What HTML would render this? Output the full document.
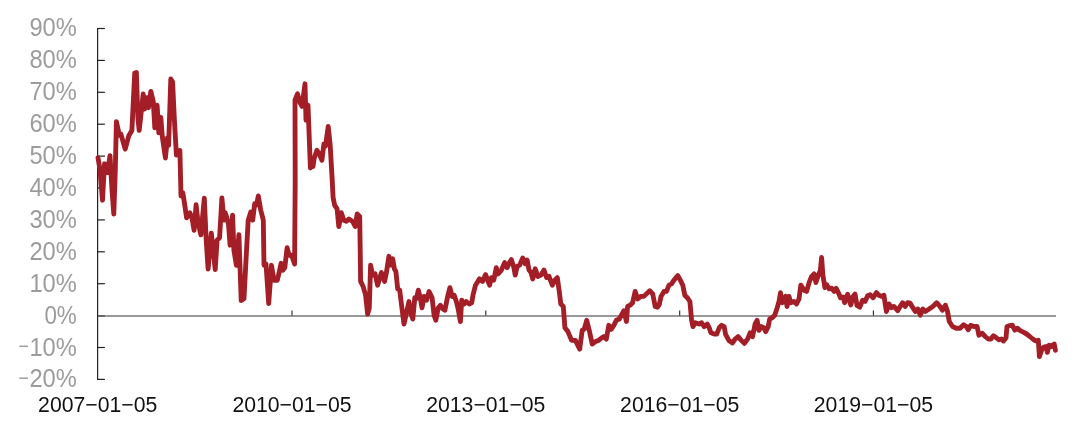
<!DOCTYPE html><html><head><meta charset="utf-8"><style>html,body{margin:0;padding:0;background:#fff}svg{display:block;will-change:transform;transform:translateZ(0)}text{font-family:"Liberation Sans",sans-serif}</style></head><body>
<svg width="1080" height="438" viewBox="0 0 1080 438">
<rect width="1080" height="438" fill="#fff"/>
<line x1="292.0" y1="316.3" x2="292.0" y2="310.6" stroke="#222" stroke-width="1.1"/>
<line x1="485.8" y1="316.3" x2="485.8" y2="310.6" stroke="#222" stroke-width="1.1"/>
<line x1="679.7" y1="316.3" x2="679.7" y2="310.6" stroke="#222" stroke-width="1.1"/>
<line x1="873.4" y1="316.3" x2="873.4" y2="310.6" stroke="#222" stroke-width="1.1"/>
<line x1="97.6" y1="27.9" x2="97.6" y2="380.1" stroke="#222" stroke-width="1.2"/>
<line x1="97.6" y1="28.5" x2="104.9" y2="28.5" stroke="#222" stroke-width="1.2"/>
<line x1="97.6" y1="60.4" x2="104.9" y2="60.4" stroke="#222" stroke-width="1.2"/>
<line x1="97.6" y1="92.3" x2="104.9" y2="92.3" stroke="#222" stroke-width="1.2"/>
<line x1="97.6" y1="124.2" x2="104.9" y2="124.2" stroke="#222" stroke-width="1.2"/>
<line x1="97.6" y1="156.1" x2="104.9" y2="156.1" stroke="#222" stroke-width="1.2"/>
<line x1="97.6" y1="188.0" x2="104.9" y2="188.0" stroke="#222" stroke-width="1.2"/>
<line x1="97.6" y1="219.9" x2="104.9" y2="219.9" stroke="#222" stroke-width="1.2"/>
<line x1="97.6" y1="251.8" x2="104.9" y2="251.8" stroke="#222" stroke-width="1.2"/>
<line x1="97.6" y1="283.7" x2="104.9" y2="283.7" stroke="#222" stroke-width="1.2"/>
<line x1="97.6" y1="315.6" x2="104.9" y2="315.6" stroke="#222" stroke-width="1.2"/>
<line x1="97.6" y1="347.5" x2="104.9" y2="347.5" stroke="#222" stroke-width="1.2"/>
<line x1="97.6" y1="379.4" x2="104.9" y2="379.4" stroke="#222" stroke-width="1.2"/>
<line x1="98" y1="316" x2="1056" y2="316" stroke="#777" stroke-width="1.55"/>
<line x1="98.2" y1="316" x2="104.9" y2="316" stroke="#666" stroke-width="1.55"/>
<text x="29.4" y="36.2" font-size="25.2" fill="#9c9c9c" textLength="47.4" lengthAdjust="spacingAndGlyphs">90%</text>
<text x="29.4" y="68.2" font-size="25.2" fill="#9c9c9c" textLength="47.4" lengthAdjust="spacingAndGlyphs">80%</text>
<text x="29.4" y="100.1" font-size="25.2" fill="#9c9c9c" textLength="47.4" lengthAdjust="spacingAndGlyphs">70%</text>
<text x="29.4" y="132.0" font-size="25.2" fill="#9c9c9c" textLength="47.4" lengthAdjust="spacingAndGlyphs">60%</text>
<text x="29.4" y="163.9" font-size="25.2" fill="#9c9c9c" textLength="47.4" lengthAdjust="spacingAndGlyphs">50%</text>
<text x="29.4" y="195.9" font-size="25.2" fill="#9c9c9c" textLength="47.4" lengthAdjust="spacingAndGlyphs">40%</text>
<text x="29.4" y="227.8" font-size="25.2" fill="#9c9c9c" textLength="47.4" lengthAdjust="spacingAndGlyphs">30%</text>
<text x="29.4" y="259.7" font-size="25.2" fill="#9c9c9c" textLength="47.4" lengthAdjust="spacingAndGlyphs">20%</text>
<text x="29.4" y="291.6" font-size="25.2" fill="#9c9c9c" textLength="47.4" lengthAdjust="spacingAndGlyphs">10%</text>
<text x="44.4" y="323.6" font-size="25.2" fill="#9c9c9c" textLength="32.4" lengthAdjust="spacingAndGlyphs">0%</text>
<text x="29.4" y="355.5" font-size="25.2" fill="#9c9c9c" textLength="47.4" lengthAdjust="spacingAndGlyphs">10%</text>
<line x1="19.3" y1="346.3" x2="28" y2="346.3" stroke="#9c9c9c" stroke-width="1.5"/>
<text x="29.4" y="387.4" font-size="25.2" fill="#9c9c9c" textLength="47.4" lengthAdjust="spacingAndGlyphs">20%</text>
<line x1="19.3" y1="378.2" x2="28" y2="378.2" stroke="#9c9c9c" stroke-width="1.5"/>
<text x="38.1" y="411.8" font-size="21.3" fill="#111" textLength="119.2" lengthAdjust="spacingAndGlyphs">2007−01−05</text>
<text x="232.4" y="411.8" font-size="21.3" fill="#111" textLength="119.2" lengthAdjust="spacingAndGlyphs">2010−01−05</text>
<text x="426.2" y="411.8" font-size="21.3" fill="#111" textLength="119.2" lengthAdjust="spacingAndGlyphs">2013−01−05</text>
<text x="620.1" y="411.8" font-size="21.3" fill="#111" textLength="119.2" lengthAdjust="spacingAndGlyphs">2016−01−05</text>
<text x="813.8" y="411.8" font-size="21.3" fill="#111" textLength="119.2" lengthAdjust="spacingAndGlyphs">2019−01−05</text>
<path d="M98.0 157.6 L100.0 170.0 L102.5 200.2 L104.5 163.8 L106.3 165.0 L107.5 172.6 L110.0 155.6 L112.0 190.0 L113.8 214.0 L115.3 170.0 L116.4 121.6 L119.4 135.4 L120.9 134.1 L125.2 149.2 L128.9 135.4 L131.9 130.4 L134.7 73.0 L136.4 72.5 L137.9 118.0 L139.2 130.4 L143.2 93.9 L144.7 109.0 L147.0 97.7 L148.5 107.7 L150.8 91.4 L153.3 101.5 L154.8 127.8 L157.1 105.2 L158.8 132.9 L160.8 117.3 L162.3 136.6 L165.4 158.0 L167.4 137.9 L168.6 145.4 L170.8 79.0 L172.6 82.0 L174.4 120.0 L176.4 155.0 L179.9 150.5 L181.0 196.0 L182.8 192.7 L184.0 200.0 L186.6 217.8 L189.9 212.8 L192.0 218.0 L194.1 230.3 L196.1 204.7 L198.0 222.0 L200.9 234.9 L204.3 198.1 L206.2 240.0 L208.1 269.0 L211.3 233.1 L213.0 248.0 L215.2 269.5 L217.1 240.2 L219.6 237.7 L221.9 198.0 L223.9 220.1 L225.1 212.6 L227.1 218.8 L228.5 224.0 L230.1 245.2 L232.6 215.1 L233.9 250.2 L236.4 265.3 L238.9 234.6 L241.2 300.6 L244.0 298.5 L246.0 260.0 L248.2 220.1 L250.7 212.1 L252.7 220.1 L254.7 203.8 L256.5 205.0 L258.3 196.0 L260.7 210.0 L263.3 220.1 L264.0 265.3 L266.0 264.0 L268.7 303.5 L271.5 265.3 L274.0 280.3 L277.3 280.3 L279.0 273.0 L281.1 263.3 L282.8 270.3 L284.8 267.8 L287.1 247.7 L289.1 255.2 L291.6 255.2 L294.6 264.0 L295.2 180.0 L295.0 100.1 L297.5 93.8 L300.0 102.6 L302.0 106.4 L305.0 83.8 L306.0 120.2 L308.0 105.1 L310.4 168.0 L311.6 163.0 L313.0 166.5 L314.3 158.0 L316.9 150.3 L319.4 154.1 L321.9 160.3 L323.9 144.0 L325.5 146.0 L328.2 126.5 L330.2 145.3 L332.2 180.0 L333.1 197.6 L334.6 205.1 L337.1 208.9 L338.8 226.5 L341.3 212.7 L343.9 220.2 L346.4 221.4 L348.9 218.9 L352.6 221.4 L355.2 226.5 L357.2 213.9 L359.7 216.4 L360.2 250.0 L360.6 281.4 L363.1 286.4 L365.6 295.2 L367.6 314.0 L369.3 307.8 L370.6 265.1 L372.6 275.2 L375.1 273.9 L377.6 285.2 L381.4 272.6 L384.6 281.4 L386.4 272.6 L388.9 256.3 L390.9 265.1 L392.7 258.8 L394.4 268.9 L395.9 271.4 L397.7 289.0 L399.7 290.2 L402.2 310.3 L404.0 324.1 L406.5 312.8 L409.0 301.5 L410.7 312.8 L412.8 319.1 L414.8 297.7 L416.5 298.5 L418.3 290.2 L420.3 297.7 L422.0 307.8 L424.0 296.5 L426.6 300.2 L429.1 291.5 L432.1 297.7 L434.1 315.3 L435.8 320.3 L438.3 307.8 L440.4 305.3 L442.9 309.0 L444.9 310.3 L447.4 297.7 L449.9 287.7 L452.2 296.5 L454.2 295.2 L456.7 302.8 L458.4 310.3 L460.4 321.6 L461.7 300.2 L464.2 304.0 L466.2 301.5 L469.2 304.0 L471.7 302.8 L473.0 295.2 L475.5 285.2 L479.5 278.9 L482.5 281.4 L485.6 274.6 L487.6 280.1 L489.6 285.2 L491.3 277.6 L493.8 280.1 L496.3 267.6 L498.1 273.9 L501.4 270.1 L504.6 262.6 L507.1 267.6 L508.9 263.8 L511.4 259.6 L513.9 267.6 L515.2 275.1 L517.2 266.3 L519.7 265.1 L522.7 258.0 L525.2 263.8 L527.2 260.1 L529.0 270.1 L531.0 272.6 L532.7 278.9 L535.2 268.8 L537.8 276.4 L541.0 275.1 L544.0 270.1 L546.5 277.6 L549.0 276.4 L552.3 285.2 L554.8 280.1 L557.3 277.6 L559.1 290.2 L560.8 304.0 L563.3 306.5 L564.9 327.8 L567.9 331.6 L571.6 340.4 L575.4 340.4 L579.7 349.1 L582.2 330.3 L584.2 329.1 L586.7 320.3 L589.2 330.3 L592.2 344.1 L595.5 341.6 L598.5 340.4 L601.7 337.8 L603.8 336.6 L606.3 339.1 L608.8 325.3 L611.3 329.1 L613.8 325.3 L616.3 320.3 L619.3 319.0 L621.3 315.3 L623.9 310.7 L626.4 321.5 L627.6 306.5 L630.1 305.2 L632.6 302.7 L635.2 291.4 L637.7 299.0 L640.7 296.4 L643.9 296.4 L646.4 293.9 L649.7 290.7 L652.7 293.9 L655.2 306.5 L657.5 307.3 L659.3 304.5 L661.0 296.4 L664.0 291.4 L666.5 291.4 L669.0 285.2 L671.5 283.9 L674.0 280.1 L677.8 275.6 L680.3 280.1 L682.8 285.2 L684.8 295.2 L687.3 297.7 L689.9 301.5 L691.6 320.3 L692.9 326.6 L695.4 322.8 L699.1 324.0 L701.6 322.8 L704.2 326.6 L707.2 324.0 L709.2 327.8 L710.9 332.8 L714.2 334.1 L716.7 334.1 L719.2 327.8 L721.7 325.3 L724.2 326.6 L725.5 334.1 L728.8 340.4 L732.5 342.9 L735.1 339.1 L738.1 336.6 L741.3 340.4 L744.3 343.4 L747.6 339.1 L750.1 332.8 L752.6 336.6 L755.1 324.0 L757.1 320.3 L758.9 330.3 L761.4 326.6 L763.9 327.8 L765.7 331.6 L768.2 326.6 L769.7 319.0 L772.2 317.8 L774.7 315.3 L777.2 307.7 L779.0 301.5 L780.5 292.7 L782.2 302.7 L784.0 299.0 L785.7 296.4 L787.0 306.5 L789.0 296.4 L790.8 302.7 L794.0 301.5 L796.5 304.0 L799.0 299.0 L800.8 285.2 L804.1 290.2 L806.6 291.4 L809.1 282.6 L811.6 276.4 L814.1 273.9 L815.9 282.6 L818.4 275.1 L820.4 270.1 L821.6 257.5 L822.9 275.1 L824.9 287.7 L826.6 284.6 L829.2 288.9 L831.7 288.2 L834.2 291.4 L836.2 288.2 L838.4 292.7 L840.5 297.7 L843.0 297.0 L844.6 302.7 L847.6 294.3 L850.8 305.0 L852.8 297.0 L855.0 294.0 L857.0 305.5 L859.8 307.2 L862.6 300.2 L865.1 301.4 L867.6 295.7 L870.1 294.6 L873.1 297.7 L876.4 292.6 L878.9 295.2 L881.4 296.4 L883.9 295.2 L885.2 303.9 L886.4 311.5 L888.9 303.9 L891.4 307.7 L893.9 306.4 L897.7 310.7 L900.2 306.4 L902.7 302.7 L905.2 306.4 L907.7 302.7 L910.2 303.2 L912.8 307.7 L915.3 311.5 L917.8 309.0 L920.3 315.2 L922.8 309.0 L925.3 311.5 L929.1 309.0 L932.8 306.4 L936.6 302.7 L939.9 306.4 L942.4 310.2 L945.4 305.2 L947.4 311.0 L949.3 321.5 L952.5 326.5 L956.3 328.2 L960.1 328.2 L963.6 324.7 L966.3 326.5 L968.2 329.8 L970.6 325.4 L973.9 326.5 L977.1 326.5 L978.9 335.2 L982.1 333.2 L985.2 336.5 L988.2 339.0 L990.9 339.0 L993.4 335.7 L996.4 337.8 L999.0 339.8 L1001.5 339.0 L1003.5 341.0 L1006.0 337.8 L1007.0 326.5 L1009.7 325.7 L1012.3 325.2 L1014.8 330.2 L1017.3 328.2 L1020.3 330.7 L1023.3 332.2 L1026.6 334.0 L1029.8 336.5 L1032.8 339.0 L1035.3 340.8 L1038.3 340.3 L1039.4 356.6 L1041.6 350.3 L1043.4 347.3 L1045.9 346.5 L1047.4 352.3 L1049.1 345.3 L1051.6 346.5 L1054.2 344.0 L1055.4 350.3" fill="none" stroke="#a31e26" stroke-width="4.85" stroke-linejoin="round" stroke-linecap="round"/>
</svg></body></html>
